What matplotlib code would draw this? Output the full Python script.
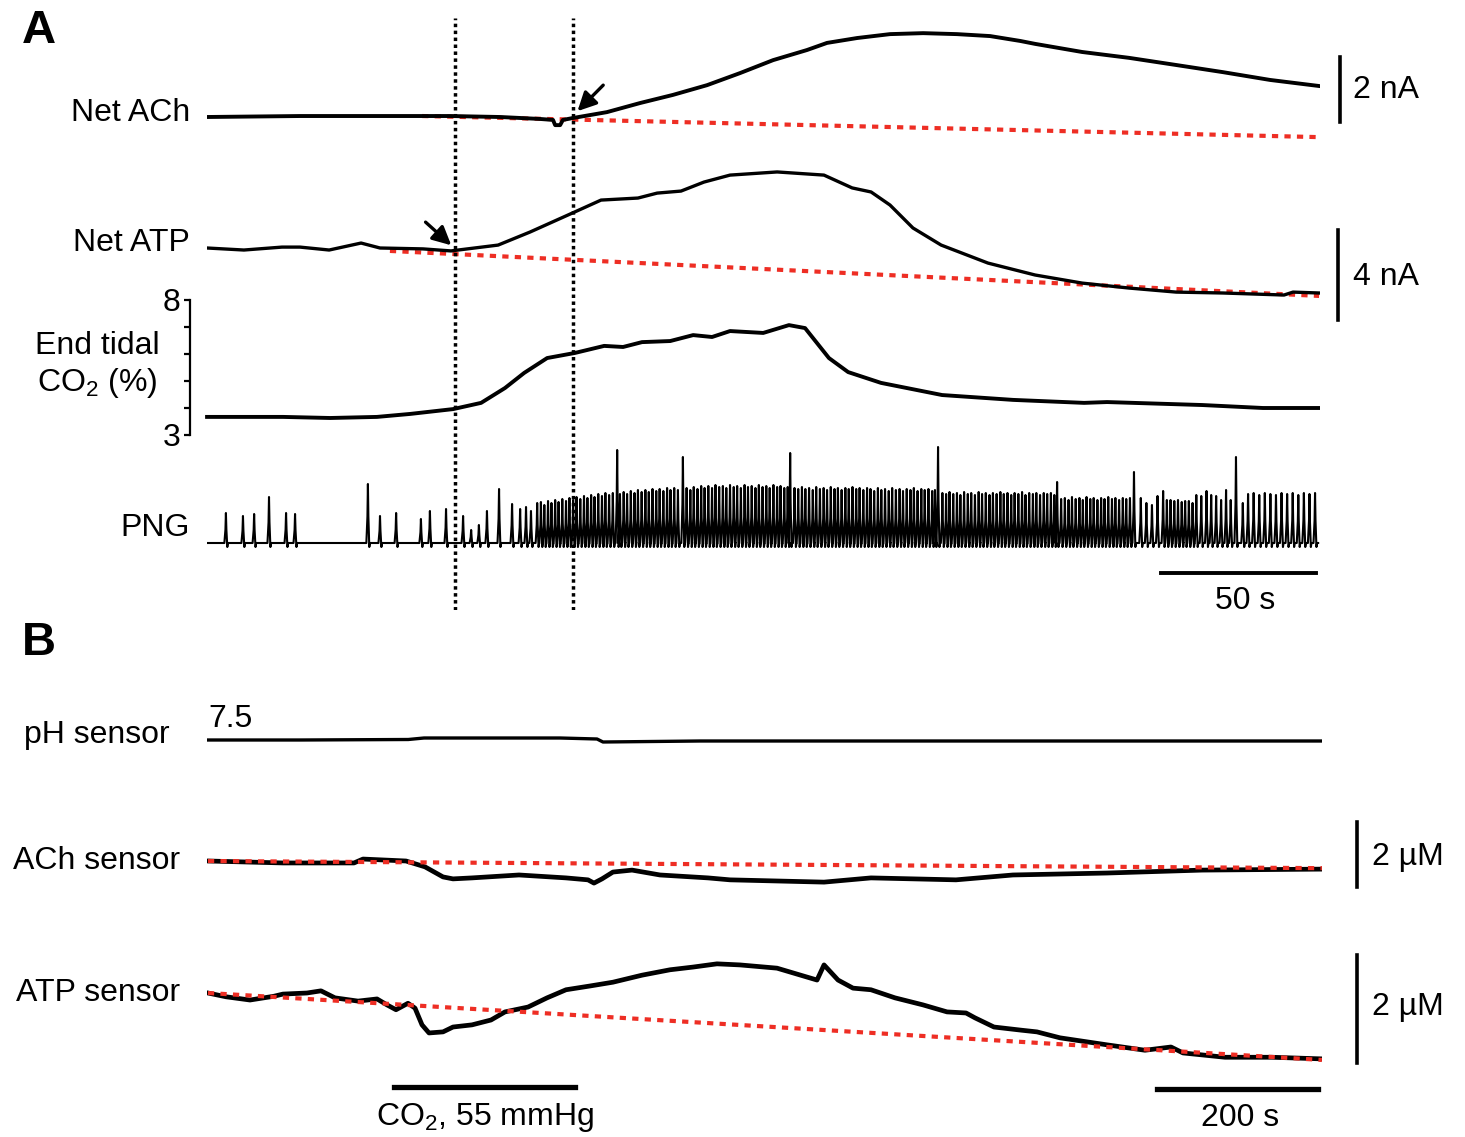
import matplotlib
matplotlib.use("Agg")
import matplotlib.pyplot as plt

plt.rcParams['font.family'] = ['Liberation Sans', 'DejaVu Sans']
plt.rcParams['mathtext.fontset'] = 'custom'
plt.rcParams['mathtext.rm'] = 'Liberation Sans'
plt.rcParams['mathtext.it'] = 'Liberation Sans:italic'

# ---------------- panel A data (time in s) ----------------
ach_t = [0, 30, 62.3, 78.4, 94.5, 107.4, 111.6, 112.3, 113.9, 114.8, 118.1, 129.0, 139.7,
         150.3, 161.3, 171.9, 182.6, 193.5, 200.0, 209.7, 220.3, 231.0, 241.9, 252.6, 262.3,
         267.1, 282.3, 297.4, 312.6, 327.7, 342.9, 359]
ach_na = [0, 0.03, 0.03, 0.03, 0, -0.06, -0.09, -0.25, -0.25, -0.09, -0.03, 0.15, 0.43,
          0.68, 0.98, 1.35, 1.75, 2.06, 2.28, 2.43, 2.55, 2.58, 2.55, 2.49, 2.34,
          2.25, 2.0, 1.82, 1.6, 1.38, 1.14, 0.95]
ach_base_t = [69.4, 359]
ach_base_na = [0.03, -0.62]

atp_t = [0, 11.9, 24.2, 30, 39.4, 49.7, 55.8, 69.7, 78.7, 93.9, 104.2, 116.5, 127.1, 139,
         145.2, 152.9, 160.3, 168.7, 183.9, 199, 208.1, 214.2, 220.3, 227.7, 236.8, 251.9,
         267.1, 282.3, 297.4, 312.6, 327.7, 347.4, 350.3, 358.7]
atp_na = [0, -0.09, 0.04, 0.04, -0.09, 0.22, 0, -0.04, -0.13, 0.13, 0.71, 1.47, 2.13, 2.22,
          2.44, 2.53, 2.93, 3.24, 3.38, 3.24, 2.67, 2.49, 1.91, 0.89, 0.13, -0.67,
          -1.2, -1.56, -1.78, -1.96, -2.0, -2.09, -1.96, -2.0]
atp_base_t = [59, 358.7]
atp_base_na = [-0.13, -2.13]

co2_t = [0, 24.5, 39.7, 54.8, 65.5, 79.4, 88.4, 96.1, 102.3, 109.7, 118.7, 128.1, 134.2, 140.3,
         149.4, 156.8, 162.9, 168.7, 179.4, 187.7, 192.9, 200.6, 206.8, 217.4, 237.1, 260,
         282.9, 290.3, 321, 340.6, 359]
co2_pct = [3.67, 3.67, 3.63, 3.67, 3.78, 3.96, 4.19, 4.74, 5.3, 5.85, 6.04, 6.3, 6.26, 6.44,
           6.48, 6.7, 6.63, 6.85, 6.78, 7.07, 6.96, 5.85, 5.33, 4.93, 4.48, 4.3,
           4.19, 4.22, 4.11, 4.0, 4.0]

# phrenic nerve spikes: times (s) and amplitudes (a.u.)
png_sparse_t = [6.1, 11.6, 15.2, 20.0, 25.5, 28.4, 51.9, 55.8, 61.0, 69.0, 71.9, 77.1, 82.6,
                85.2, 87.7, 90.3, 94.2, 98.4, 101.0, 102.9, 104.5]
png_sparse_h = [30, 27, 29, 46, 30, 29, 59, 27, 30, 24, 32, 34, 27, 13, 18, 32, 54, 39, 34, 36, 32]

png_tall_t = [132.3, 153.5, 188.1, 235.8, 274.2, 299.0, 331.9]
png_tall_h = [93, 86, 90, 96, 61, 71, 86]

png_dense_t = [
    106.5, 107.7, 108.8, 110.0, 111.1, 112.3, 113.4, 114.6, 115.8, 116.9, 118.1, 119.2, 120.4,
    121.6, 122.7, 123.9, 125.0, 126.2, 127.4, 128.5, 129.7, 130.9, 133.2, 134.4, 135.5, 136.7,
    137.9, 139.0, 140.2, 141.4, 142.5, 143.7, 144.9, 146.0, 147.2, 148.4, 149.5, 150.7, 151.9,
    154.7, 155.9, 157.0, 158.2, 159.4, 160.5, 161.7, 162.9, 164.0, 165.2, 166.4, 167.5, 168.7,
    169.9, 171.0, 172.2, 173.4, 174.5, 175.7, 176.9, 178.0, 179.2, 180.4, 181.5, 182.7, 183.9,
    185.0, 186.2, 187.3,
    189.5, 190.7, 191.9, 193.0, 194.2, 195.4, 196.5, 197.7, 198.9, 200.0, 201.2, 202.4, 203.5,
    204.7, 205.9, 207.0, 208.2, 209.4, 210.5, 211.7, 212.9, 214.0, 215.2, 216.4, 217.5, 218.7,
    219.9, 221.0, 222.2, 223.4, 224.5, 225.7, 226.9, 228.0, 229.2, 230.4, 231.5, 232.7, 233.9,
    234.8,
    237.2, 238.4, 239.5, 240.7, 241.9, 243.0, 244.2, 245.4, 246.5, 247.7, 248.9, 250.0, 251.2,
    252.4, 253.5, 254.7, 255.9, 257.0, 258.2, 259.4, 260.5, 261.7, 262.9, 264.0, 265.2, 266.4,
    267.5, 268.7, 269.9, 271.0, 272.2, 273.3,
    275.5, 276.7, 277.9, 279.0, 280.2, 281.4, 282.5, 283.7, 284.9, 286.0, 287.2, 288.4, 289.5,
    290.7, 291.9, 293.0, 294.2, 295.4, 296.5, 297.7,
    301.2, 303.0, 304.8, 306.6, 308.4, 309.6, 310.8, 312.0, 313.2, 314.4, 315.5, 316.7, 317.9,
    319.1, 320.7, 322.4, 323.9, 325.5, 327.1, 328.7, 330.2,
    334.1, 335.8, 337.6, 339.4, 341.2, 343.0, 344.8, 346.6, 348.4, 350.2, 352.0, 353.8, 355.6,
    357.4]
png_dense_h = [
    40, 41, 38, 42, 40, 43, 41, 44, 42, 45, 43, 46, 44,
    47, 45, 48, 46, 49, 47, 50, 48, 50, 49, 51, 49, 52,
    50, 53, 51, 53, 51, 54, 52, 54, 52, 55, 53, 55, 53,
    55, 53, 56, 54, 57, 55, 57, 55, 58, 56, 57, 55, 58,
    56, 57, 55, 58, 56, 57, 55, 58, 56, 57, 55, 58, 56,
    57, 55, 56,
    55, 54, 56, 54, 55, 53, 56, 54, 55, 53, 56, 54, 55,
    53, 55, 54, 56, 54, 55, 53, 55, 54, 52, 55, 53, 54,
    52, 55, 53, 54, 52, 54, 53, 55, 52, 54, 53, 54, 52,
    53,
    50, 49, 51, 49, 50, 48, 51, 49, 50, 48, 51, 49, 50,
    48, 50, 49, 51, 49, 50, 48, 50, 49, 51, 48, 50, 49,
    50, 48, 50, 49, 50, 48,
    44, 45, 43, 46, 44, 45, 43, 46, 44, 45, 43, 45, 44,
    46, 44, 45, 43, 45, 44, 45,
    45, 40, 38, 47, 52, 43, 43, 42, 43, 41, 42, 42, 40,
    48, 47, 52, 48, 47, 43, 53, 43,
    40, 49, 50, 48, 50, 49, 48, 50, 49, 50, 48, 50, 49,
    50]
png_end_t = 358.4

# ---------------- panel B data (time in s) ----------------
ph_t = [0, 115.5, 250, 269.6, 438.5, 484.5, 491.9, 612.4, 985, 1385]
ph_val = [7.50, 7.50, 7.505, 7.52, 7.52, 7.51, 7.48, 7.49, 7.49, 7.49]

achs_t = [1.2, 94.4, 182.6, 193.8, 247.2, 270.8, 293.2, 305.6, 329.2, 387.6, 446, 473.3, 480.7,
          490.7, 504.3, 528, 562.7, 622.4, 649.7, 766.5, 824.8, 930.4, 1001.2, 1118, 1236, 1385]
achs_um = [0, -0.06, -0.06, 0.06, 0, -0.18, -0.49, -0.55, -0.52, -0.43, -0.52, -0.58, -0.68,
           -0.55, -0.34, -0.28, -0.43, -0.52, -0.58, -0.65, -0.52, -0.58, -0.43, -0.37, -0.28, -0.25]
achs_base_t = [1.2, 1385]
achs_base_um = [0, -0.22]

atps_t = [1.2, 23.6, 53.4, 83.2, 94.4, 124.2, 141.6, 159, 187.6, 211.2, 223.6, 234.8, 249.7,
          258.4, 267.1, 275.8, 293.2, 305.6, 329.2, 352.8, 370.2, 398.8, 422.4, 446, 475.8,
          504.3, 540.4, 575.2, 603.7, 633.5, 662.1, 708.1, 757.8, 766.5, 783.9, 802.5, 824.8,
          854.7, 889.4, 919.3, 942.9, 954, 977.6, 1012.4, 1031, 1059.6, 1118, 1165.2, 1197.5,
          1212.4, 1264.6, 1323, 1385]
atps_um = [0, -0.07, -0.13, -0.06, -0.02, 0, 0.04, -0.09, -0.15, -0.11, -0.22, -0.31, -0.19,
           -0.28, -0.59, -0.74, -0.72, -0.63, -0.59, -0.5, -0.35, -0.26, -0.09, 0.06, 0.13,
           0.2, 0.33, 0.43, 0.48, 0.54, 0.52, 0.46, 0.24, 0.52, 0.24, 0.09, 0.06,
           -0.09, -0.22, -0.35, -0.37, -0.46, -0.63, -0.69, -0.72, -0.83, -0.96, -1.06, -1.0,
           -1.11, -1.19, -1.19, -1.22]
atps_base_t = [1.2, 1385]
atps_base_um = [0, -1.24]

co2_stim_t = [232.3, 457.1]

RED = '#ee2e24'
RED_LS = (0, (1.5, 1.5))
W, H = 1465, 1137
fig = plt.figure(figsize=(14.65, 11.37), dpi=100)


def band(x0, x1, y_top, y_bot, xlim, zero_px, px_per_unit, zero_val=0.0):
    ax = fig.add_axes([x0 / W, 1 - y_bot / H, (x1 - x0) / W, (y_bot - y_top) / H])
    ax.set_xlim(xlim)
    ax.set_ylim(zero_val + (zero_px - y_bot) / px_per_unit,
                zero_val + (zero_px - y_top) / px_per_unit)
    ax.axis('off')
    ax.patch.set_visible(False)
    return ax


A_LIM = (0, 359.0)
B_LIM = (0, 1385.1)
FS = 23
arrow = dict(arrowstyle='-|>', color='k', lw=2.4, mutation_scale=28,
             shrinkA=0, shrinkB=0)

# Net ACh
ax = band(207, 1320, 15, 150, A_LIM, 117, 32.5)
ax.plot(ach_base_t, ach_base_na, color=RED, lw=3.0, ls=RED_LS)
ax.plot(ach_t, ach_na, color='k', lw=2.8, solid_capstyle='round', solid_joinstyle='round')
ax.text(-5.5, 0.12, 'Net ACh', ha='right', va='center', fontsize=FS)
ax.plot([365.5, 365.5], [-0.15, 1.85], color='k', lw=2.6, clip_on=False)
ax.text(369.7, 0.83, '2 nA', ha='left', va='center', fontsize=FS)
ax.annotate('', xy=(119.5, 0.18), xytext=(127.8, 0.98), arrowprops=arrow)

# Net ATP
ax = band(207, 1320, 150, 330, A_LIM, 248, 22.5)
ax.plot(atp_base_t, atp_base_na, color=RED, lw=3.0, ls=RED_LS)
ax.plot(atp_t, atp_na, color='k', lw=2.4, solid_joinstyle='round')
ax.text(-5.5, 0.22, 'Net ATP', ha='right', va='center', fontsize=FS)
ax.plot([364.8, 364.8], [0.8, -3.2], color='k', lw=2.6, clip_on=False)
ax.text(369.7, -1.29, '4 nA', ha='left', va='center', fontsize=FS)
ax.annotate('', xy=(78.8, 0.12), xytext=(70.5, 1.15), arrowprops=arrow)

# End tidal CO2
ax = fig.add_axes([190 / W, 1 - 435 / H, (1320 - 190) / W, 135 / H])
ax.set_xlim(-5.5, 359.0)
ax.set_ylim(3, 8)
ax.patch.set_visible(False)
for s in ['top', 'right', 'bottom']:
    ax.spines[s].set_visible(False)
ax.spines['left'].set_linewidth(1.6)
ax.set_xticks([])
ax.set_yticks([3, 4, 5, 6, 7, 8])
ax.set_yticklabels(['3', '', '', '', '', '8'])
ax.tick_params(axis='y', length=4, width=1.6, labelsize=FS, pad=3)
ax.plot(co2_t, co2_pct, color='k', lw=2.8, solid_joinstyle='round')
ax.text(-35.5, 6.30, 'End tidal', ha='center', va='center', fontsize=FS)
ax.text(-35.5, 4.93, 'CO$_2$ (%)', ha='center', va='center', fontsize=FS)

# PNG
ax = band(207, 1320, 440, 620, A_LIM, 543, 1.0)
all_spikes = sorted(zip(png_sparse_t + png_tall_t + png_dense_t,
                        png_sparse_h + png_tall_h + png_dense_h))
xs, ys = [0], [0]
for t, h in all_spikes:
    xs += [t - 0.5, t - 0.15, t, t + 0.15, t + 0.45, t + 0.65]
    ys += [0, 0.45 * h, h, 0.45 * h, -4, 0]
xs.append(png_end_t)
ys.append(0)
ax.plot(xs, ys, color='k', lw=1.5)
ax.text(-5.5, 15, 'PNG', ha='right', va='center', fontsize=FS)
ax.plot([307.7, 357.7], [-30, -30], color='k', lw=2.8, clip_on=False)
ax.text(334.8, -58, '50 s', ha='center', va='center', fontsize=FS)

# dotted markers across panel A
ax = band(207, 1320, 18, 610, A_LIM, 610, 1.0)
for tx in [80.0, 118.1]:
    ax.axvline(tx, color='k', lw=2.5, ls=(0, (1, 1)))

# pH sensor
ax = band(207, 1322, 690, 790, B_LIM, 740, 100.0, zero_val=7.5)
ax.plot(ph_t, ph_val, color='k', lw=2.4)
ax.text(-46, 7.55, 'pH sensor', ha='right', va='center', fontsize=FS)
ax.text(1.2, 7.71, '7.5', ha='left', va='center', fontsize=FS)

# ACh sensor
ax = band(207, 1322, 800, 910, B_LIM, 861, 32.5)
ax.plot(achs_t, achs_um, color='k', lw=3.4, solid_joinstyle='round')
ax.plot(achs_base_t, achs_base_um, color=RED, lw=3.0, ls=RED_LS)
ax.text(-33.5, 0, 'ACh sensor', ha='right', va='center', fontsize=FS)
ax.plot([1428.6, 1428.6], [1.2, -0.8], color='k', lw=2.6, clip_on=False)
ax.text(1447.2, 0.12, '2 µM', ha='left', va='center', fontsize=FS)

# ATP sensor
ax = band(207, 1322, 930, 1137, B_LIM, 993, 54.0)
ax.plot(atps_t, atps_um, color='k', lw=3.4, solid_joinstyle='round')
ax.plot(atps_base_t, atps_base_um, color=RED, lw=3.0, ls=RED_LS)
ax.text(-33.5, 0, 'ATP sensor', ha='right', va='center', fontsize=FS)
ax.plot([1428.6, 1428.6], [0.70, -1.30], color='k', lw=2.6, clip_on=False)
ax.text(1447.2, -0.26, '2 µM', ha='left', va='center', fontsize=FS)
ax.plot(co2_stim_t, [-1.74, -1.74], color='k', lw=3.8, clip_on=False)
ax.text(345.3, -2.31, 'CO$_2$, 55 mmHg', ha='center', va='center', fontsize=FS)
ax.plot([1180.1, 1380.1], [-1.78, -1.78], color='k', lw=3.8, clip_on=False)
ax.text(1283.2, -2.31, '200 s', ha='center', va='center', fontsize=FS)

fig.text(22 / W, 1 - 31 / H, 'A', ha='left', va='center', fontsize=34, fontweight='bold')
fig.text(22 / W, 1 - 643 / H, 'B', ha='left', va='center', fontsize=34, fontweight='bold')

fig.savefig('out.png', dpi=100)
